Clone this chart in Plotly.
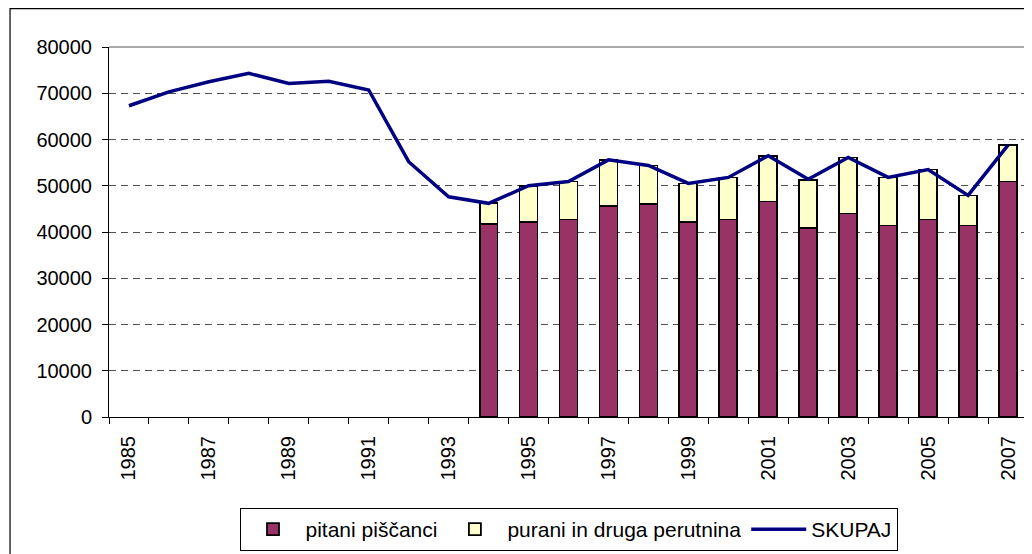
import plotly.graph_objects as go

years_total = list(range(1985, 2008))
skupaj = [67300, 70300, 72500, 74300, 72100, 72600, 70700, 55200, 47600,
          46200, 50000, 50900, 55600, 54400, 50500, 51800, 56500, 51400,
          56100, 51800, 53500, 47900, 58800]

years_bars = list(range(1994, 2008))
pitani = [41800, 42200, 42700, 45700, 46000, 42200, 42700, 46600, 40900,
          44000, 41400, 42700, 41400, 50900]
purani = [4400, 7800, 8200, 9900, 8400, 8300, 9100, 9900, 10400,
          12100, 10400, 10800, 6500, 7900]

tick_years = list(range(1985, 2008, 2))
tick_labels = [str(y) for y in tick_years]
y_ticks = list(range(0, 80001, 10000))

FONT = "Liberation Sans, Arial, sans-serif"

fig = go.Figure()
fig.add_trace(go.Bar(
    x=years_bars, y=pitani, name="pitani piščanci", width=0.45,
    marker=dict(color="#993366", line=dict(color="black", width=1.8)),
))
fig.add_trace(go.Bar(
    x=years_bars, y=purani, name="purani in druga perutnina", width=0.45,
    marker=dict(color="#FFFFCC", line=dict(color="black", width=1.8)),
))
fig.add_trace(go.Scatter(
    x=years_total, y=skupaj, name="SKUPAJ", mode="lines",
    line=dict(color="#000080", width=3.5),
))

fig.update_layout(
    width=1024, height=546,
    barmode="stack",
    paper_bgcolor="white", plot_bgcolor="white",
    margin=dict(l=101, r=4, t=39, b=136),
    font=dict(family=FONT, size=20, color="black"),
    showlegend=True,
    legend=dict(
        orientation="h", x=0.5, xanchor="center", y=-0.2426, yanchor="top",
        bordercolor="black", borderwidth=1, bgcolor="white",
        font=dict(family=FONT, size=21, color="black"),
        traceorder="normal", itemwidth=55,
    ),
    xaxis=dict(
        range=[1984.5, 2007.5],
        tickmode="array", tickvals=tick_years, ticktext=tick_labels,
        tickangle=-90, ticks="", showgrid=False,
        showline=True, linecolor="black", linewidth=1,
        tickfont=dict(family=FONT, size=20, color="black"),
        ticklabelstandoff=10,
        minor=dict(tickmode="array",
                   tickvals=[y + 0.5 for y in range(1984, 2008)],
                   ticks="outside", ticklen=6, tickcolor="black", showgrid=False),
        zeroline=False,
    ),
    yaxis=dict(
        range=[0, 80000], tickmode="array", tickvals=y_ticks,
        tickformat="d",
        ticks="outside", ticklen=6, tickcolor="black",
        showline=True, linecolor="black", linewidth=1,
        showgrid=True, gridcolor="#505050", gridwidth=1, griddash="7px,5px",
        zeroline=False,
        tickfont=dict(family=FONT, size=20, color="black"),
        ticklabelstandoff=6,
    ),
    shapes=[
        dict(type="line", xref="paper", yref="paper", x0=0, x1=1, y0=1, y1=1,
             line=dict(color="#909090", width=1.5)),
        dict(type="line", xref="paper", yref="paper", x0=1, x1=1, y0=0, y1=1,
             line=dict(color="#909090", width=1.5)),
        dict(type="rect", xref="paper", yref="paper",
             x0=-0.1077, x1=1.02, y0=-0.4, y1=1.1038,
             line=dict(color="black", width=1.2), fillcolor="rgba(0,0,0,0)",
             layer="below"),
    ],
)

fig.write_html("out.html")
